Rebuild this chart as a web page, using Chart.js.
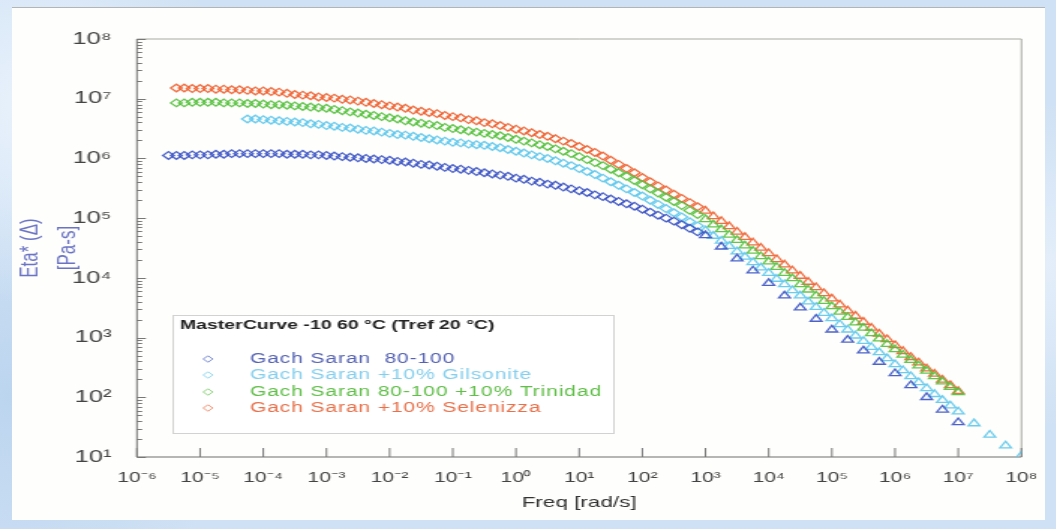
<!DOCTYPE html>
<html>
<head>
<meta charset="utf-8">
<script src="https://cdn.jsdelivr.net/npm/chart.js@4.4.1/dist/chart.umd.min.js"></script>
<style>
  html, body { margin: 0; padding: 0; }
  body {
    width: 1056px; height: 529px; overflow: hidden;
    background-color: #cfe1f4;
    background-image:
      radial-gradient(circle at 3% 20%, #e9f2fc 0, rgba(233,242,252,0) 18%),
      radial-gradient(circle at 1% 75%, #bcd5ef 0, rgba(188,213,239,0) 20%),
      radial-gradient(circle at 99% 50%, #e4eefa 0, rgba(228,238,250,0) 15%);
    position: relative;
  }
  #panel {
    position: absolute; left: 12px; top: 7px;
    width: 1033px; height: 513px;
    background: #fefefc;
    border-top: 1px solid #b4b4b4;
    box-sizing: border-box;
  }
  #chart { position: absolute; left: 0; top: -1px; }
</style>
</head>
<body>
<div id="panel">
  <!-- the source picture is stretched sideways, so the canvas is drawn narrow and widened by css -->
  <canvas id="chart" width="689" height="513" style="width:1033px;height:513px"></canvas>
</div>
<script>
// log10 of the frequency [rad/s], shared by all four curves
var logFreq = [
  -5.5, -5.375, -5.25, -5.125, -5, -4.875, -4.75, -4.625,
  -4.5, -4.375, -4.25, -4.125, -4, -3.875, -3.75, -3.625,
  -3.5, -3.375, -3.25, -3.125, -3, -2.875, -2.75, -2.625,
  -2.5, -2.375, -2.25, -2.125, -2, -1.875, -1.75, -1.625,
  -1.5, -1.375, -1.25, -1.125, -1, -0.875, -0.75, -0.625,
  -0.5, -0.375, -0.25, -0.125, 0, 0.125, 0.25, 0.375,
  0.5, 0.625, 0.75, 0.875, 1, 1.125, 1.25, 1.375,
  1.5, 1.625, 1.75, 1.875, 2, 2.125, 2.25, 2.375,
  2.5, 2.625, 2.75, 2.875, 3,
  3.125, 3.25, 3.375, 3.5, 3.625, 3.75, 3.875, 4,
  4.125, 4.25, 4.375, 4.5, 4.625, 4.75, 4.875, 5,
  5.125, 5.25, 5.375, 5.5, 5.625, 5.75, 5.875, 6,
  6.125, 6.25, 6.375, 6.5, 6.625, 6.75, 6.875, 7,
  7.125, 7.25, 7.375, 7.5, 7.625, 7.75, 7.875, 8
]

// log10 of Eta* [Pa-s]
var logEtaBase = [
  6.05, 6.05, 6.05, 6.06, 6.06, 6.06, 6.07, 6.07,
  6.08, 6.08, 6.08, 6.08, 6.08, 6.08, 6.08, 6.07,
  6.07, 6.07, 6.06, 6.06, 6.05, 6.04, 6.03, 6.02,
  6.01, 6.00, 5.99, 5.98, 5.97, 5.95, 5.94, 5.92,
  5.90, 5.89, 5.87, 5.85, 5.83, 5.82, 5.80, 5.78,
  5.76, 5.74, 5.72, 5.70, 5.67, 5.65, 5.62, 5.60,
  5.57, 5.55, 5.52, 5.49, 5.46, 5.43, 5.39, 5.36,
  5.32, 5.28, 5.24, 5.20, 5.15, 5.10, 5.05, 5.00,
  4.95, 4.89, 4.83, 4.77, 4.71,
  null, 4.52, null, 4.32, null, 4.12, null, 3.91,
  null, 3.70, null, 3.50, null, 3.31, null, 3.13,
  null, 2.96, null, 2.78, null, 2.59, null, 2.40,
  null, 2.20, null, 2.00, null, 1.79, null, 1.58,
  null, null, null, null, null, null, null, null
]
var logEtaGilsonite = [
  null, null, null, null, null, null, null, null,
  null, null, 6.66, 6.66, 6.65, 6.64, 6.63, 6.62,
  6.61, 6.60, 6.58, 6.57, 6.55, 6.54, 6.52, 6.51,
  6.49, 6.47, 6.46, 6.44, 6.42, 6.40, 6.39, 6.37,
  6.35, 6.33, 6.31, 6.29, 6.27, 6.26, 6.24, 6.23,
  6.22, 6.20, 6.18, 6.15, 6.12, 6.09, 6.06, 6.03,
  6.00, 5.96, 5.92, 5.88, 5.83, 5.78, 5.73, 5.67,
  5.61, 5.55, 5.49, 5.43, 5.37, 5.30, 5.23, 5.16,
  5.09, 5.02, 4.94, 4.87, 4.79,
  4.70, 4.62, 4.53, 4.44, 4.35, 4.26, 4.17, 4.08,
  3.98, 3.89, 3.79, 3.70, 3.60, 3.51, 3.41, 3.32,
  3.22, 3.13, 3.03, 2.94, 2.84, 2.75, 2.65, 2.55,
  2.45, 2.35, 2.25, 2.15, 2.05, 1.95, 1.86, 1.76,
  null, 1.56, null, 1.37, null, 1.19, null, 1.02
]
var logEtaTrinidad = [
  null, 6.93, 6.93, 6.94, 6.94, 6.94, 6.94, 6.93,
  6.93, 6.93, 6.92, 6.92, 6.91, 6.90, 6.90, 6.89,
  6.88, 6.87, 6.86, 6.85, 6.84, 6.82, 6.80, 6.78,
  6.76, 6.74, 6.72, 6.70, 6.68, 6.66, 6.63, 6.61,
  6.59, 6.57, 6.55, 6.52, 6.50, 6.48, 6.46, 6.44,
  6.42, 6.40, 6.38, 6.35, 6.32, 6.29, 6.26, 6.23,
  6.20, 6.16, 6.12, 6.08, 6.03, 5.98, 5.93, 5.88,
  5.82, 5.76, 5.70, 5.63, 5.56, 5.49, 5.42, 5.35,
  5.28, 5.21, 5.13, 5.06, 4.98,
  4.89, 4.81, 4.72, 4.63, 4.54, 4.45, 4.36, 4.27,
  4.18, 4.08, 3.99, 3.89, 3.80, 3.70, 3.61, 3.52,
  3.43, 3.34, 3.25, 3.16, 3.07, 2.98, 2.89, 2.80,
  2.71, 2.62, 2.53, 2.44, 2.35, 2.26, 2.17, 2.08,
  null, null, null, null, null, null, null, null
]
var logEtaSelenizza = [
  null, 7.18, 7.18, 7.17, 7.17, 7.17, 7.16, 7.16,
  7.15, 7.15, 7.14, 7.13, 7.13, 7.12, 7.11, 7.09,
  7.07, 7.06, 7.05, 7.03, 7.02, 7.01, 6.99, 6.98,
  6.96, 6.94, 6.92, 6.90, 6.88, 6.86, 6.84, 6.81,
  6.79, 6.77, 6.75, 6.72, 6.70, 6.68, 6.65, 6.63,
  6.60, 6.58, 6.55, 6.52, 6.49, 6.46, 6.43, 6.40,
  6.37, 6.33, 6.29, 6.25, 6.20, 6.15, 6.10, 6.04,
  5.97, 5.90, 5.83, 5.76, 5.68, 5.61, 5.54, 5.47,
  5.40, 5.33, 5.26, 5.19, 5.12,
  5.03, 4.95, 4.86, 4.77, 4.68, 4.59, 4.50, 4.41,
  4.31, 4.22, 4.12, 4.03, 3.93, 3.84, 3.74, 3.65,
  3.55, 3.45, 3.36, 3.26, 3.16, 3.06, 2.97, 2.87,
  2.77, 2.67, 2.58, 2.48, 2.39, 2.29, 2.20, 2.10,
  null, null, null, null, null, null, null, null
]

var seriesNames = ['Gach Saran  80-100', 'Gach Saran +10% Gilsonite', 'Gach Saran 80-100 +10% Trinidad', 'Gach Saran +10% Selenizza']
var seriesColors = ['rgba(58,82,196,0.9)', 'rgba(92,198,236,0.9)', 'rgba(84,192,60,0.9)', 'rgba(238,96,48,0.9)']
var legendTextColors = ['#5462b4', '#84cfee', '#5fbf47', '#e8714a']
var legendTitle = 'MasterCurve -10 60 °C (Tref 20 °C)'

var xTickLabels = ['10⁻⁶', '10⁻⁵', '10⁻⁴', '10⁻³', '10⁻²', '10⁻¹', '10⁰', '10¹', '10²', '10³', '10⁴', '10⁵', '10⁶', '10⁷', '10⁸']
var yTickLabels = ['10¹', '10²', '10³', '10⁴', '10⁵', '10⁶', '10⁷', '10⁸']

Chart.defaults.font.family = "'Liberation Sans', Arial, sans-serif"

function toPoints(logEta){
    let pts = []
    logFreq.forEach(function(lf, i){
        if (logEta[i] != null) {
            pts.push({x: Math.pow(10, lf), y: Math.pow(10, logEta[i])})
        }
    })
    return pts
}

function decade(v){
    let e = Math.log10(v)
    let r = Math.round(e)
    return Math.abs(e - r) < 1e-6 ? r : null
}

var allSeries = [logEtaBase, logEtaGilsonite, logEtaTrinidad, logEtaSelenizza]
var datasets = allSeries.map(function(s, i){
    return {
        label: seriesNames[i],
        data: toPoints(s),
        borderColor: seriesColors[i],
        backgroundColor: 'rgba(0,0,0,0)',
        borderWidth: 1.3,
        pointStyle: function(c){ return c.raw && c.raw.x >= 1e3 ? 'triangle' : 'rectRot' },
        pointRadius: function(c){ return c.raw && c.raw.x >= 1e3 ? 4.4 : 3.8 },
        showLine: false
    }
})

// frame of the plot and the inward tick marks
var frameTicks = {
    id: 'frameTicks',
    beforeDatasetsDraw(chart){
        let {ctx, chartArea: a, scales: {x, y}} = chart
        ctx.save()
        ctx.lineWidth = 1
        ctx.strokeStyle = '#a9a9a2'
        ctx.beginPath()
        ctx.moveTo(a.left, a.top); ctx.lineTo(a.right, a.top); ctx.lineTo(a.right, a.bottom)
        ctx.stroke()
        ctx.strokeStyle = '#6f6f6f'
        ctx.beginPath()
        ctx.moveTo(a.left, a.top); ctx.lineTo(a.left, a.bottom); ctx.lineTo(a.right, a.bottom)
        ctx.stroke()
        ctx.strokeStyle = '#777'
        y.ticks.forEach(function(t){
            let m = t.value / Math.pow(10, Math.floor(Math.log10(t.value) + 1e-9))
            if (Math.abs(m - 1.5) < 0.01) return
            let py = Math.round(y.getPixelForValue(t.value)) + 0.5
            let len = decade(t.value) !== null ? 6 : 3.5
            ctx.beginPath(); ctx.moveTo(a.left, py); ctx.lineTo(a.left + len, py); ctx.stroke()
        })
        x.ticks.forEach(function(t){
            if (decade(t.value) === null) return
            let px = x.getPixelForValue(t.value)
            ctx.beginPath(); ctx.moveTo(px, a.bottom); ctx.lineTo(px, a.bottom - 9); ctx.stroke()
        })
        ctx.restore()
    }
}

// legend box inside the plot
var boxLegend = {
    id: 'boxLegend',
    afterDraw(chart){
        let ctx = chart.ctx
        ctx.save()
        ctx.fillStyle = '#ffffff'
        ctx.fillRect(107.5, 308.5, 294, 118)
        ctx.strokeStyle = '#d2d2d2'
        ctx.lineWidth = 1
        ctx.strokeRect(107.5, 308.5, 294, 118)
        ctx.fillStyle = '#222'
        ctx.font = "bold 13px 'Liberation Sans', Arial, sans-serif"
        ctx.textBaseline = 'middle'
        ctx.fillText(legendTitle, 112, 318)
        ctx.font = "14px 'Liberation Sans', Arial, sans-serif"
        if ('letterSpacing' in ctx) ctx.letterSpacing = '0.6px'
        let rows = [352, 368, 385, 401]
        chart.data.datasets.forEach(function(ds, i){
            let cx = 130.7, cy = rows[i], r = 3.2
            ctx.strokeStyle = ds.borderColor
            ctx.globalAlpha = 0.75
            ctx.beginPath()
            ctx.moveTo(cx, cy - r); ctx.lineTo(cx + r, cy); ctx.lineTo(cx, cy + r); ctx.lineTo(cx - r, cy); ctx.closePath()
            ctx.stroke()
            ctx.globalAlpha = 1
            ctx.fillStyle = legendTextColors[i]
            ctx.fillText(ds.label, 158.7, cy)
        })
        ctx.restore()
    }
}

var ctx = document.getElementById('chart')
var chartEta = new Chart(ctx, {
    type: 'scatter',
    data: { datasets: datasets },
    options: {
        responsive: false,
        animation: false,
        devicePixelRatio: 1,
        layout: { padding: { top: 32, right: 10.3, left: 0, bottom: 0 } },
        plugins: {
            legend: { display: false },
            tooltip: { enabled: false }
        },
        scales: {
            x: {
                type: 'logarithmic',
                min: 1e-6,
                max: 1e8,
                grid: { display: false },
                border: { display: false },
                ticks: {
                    autoSkip: false,
                    maxRotation: 0,
                    padding: 5,
                    color: '#444',
                    font: { size: 14 },
                    callback: function(val){
                        let d = decade(val)
                        return d === null ? '' : xTickLabels[d + 6]
                    }
                },
                title: {
                    display: true,
                    text: 'Freq [rad/s]',
                    color: '#333',
                    font: { size: 15 },
                    padding: { top: 0, bottom: 8 }
                },
                afterFit: function(scale){ scale.height = 63 }
            },
            y: {
                type: 'logarithmic',
                min: 10,
                max: 1e8,
                grid: { display: false },
                border: { display: false },
                ticks: {
                    autoSkip: false,
                    padding: 9,
                    color: '#444',
                    font: { size: 17 },
                    callback: function(val){
                        let d = decade(val)
                        return d === null ? '' : yTickLabels[d - 1]
                    }
                },
                title: {
                    display: true,
                    text: ['Eta* (Δ)', '[Pa-s]'],
                    color: '#6b74c4',
                    font: { size: 17, lineHeight: 1.47 },
                    padding: { top: 0, bottom: 0 }
                },
                afterFit: function(scale){ scale.width = 83.3 }
            }
        }
    },
    plugins: [frameTicks, boxLegend]
})
</script>
</body>
</html>
